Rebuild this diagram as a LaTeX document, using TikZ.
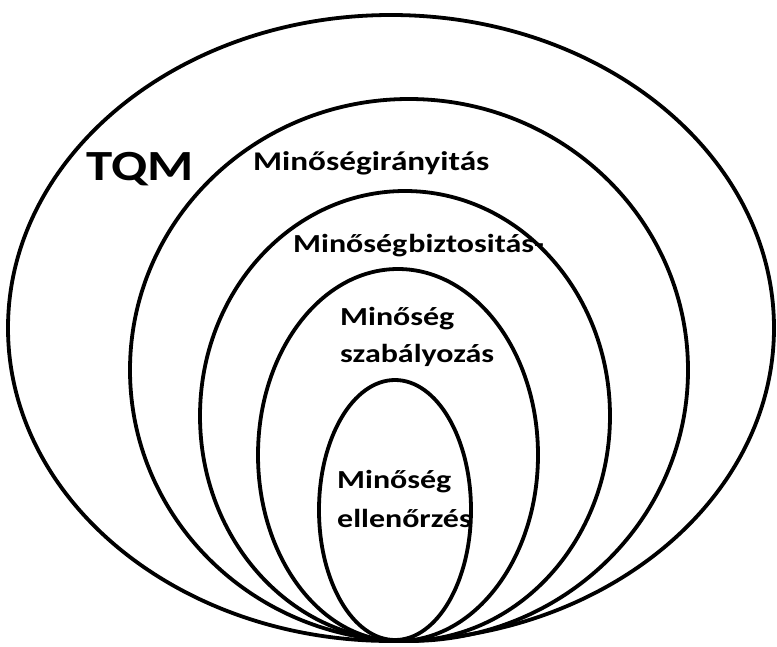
\documentclass[tikz,border=0pt]{standalone}
\usepackage{fontspec}
\newfontfamily\lblfont{Carlito}[FakeStretch=1.23]
\begin{document}
\begin{tikzpicture}[x=1pt,y=-1pt,
  ring/.style={draw=black,line width=3.8pt},
  lbl/.style={anchor=base west,inner sep=0pt,font=\lblfont\bfseries\fontsize{26}{30}\selectfont}]
\useasboundingbox (0,0) rectangle (777,646);
\fill[white] (0,0) rectangle (777,646);
% nested ellipses, all touching at the bottom
\draw[ring] (391,328) ellipse [x radius=383pt, y radius=313pt];
\draw[ring] (409,370) ellipse [x radius=279pt, y radius=271pt];
\draw[ring] (405,416) ellipse [x radius=205pt, y radius=225pt];
\draw[ring] (398,455) ellipse [x radius=140pt, y radius=186pt];
\draw[ring] (395,510) ellipse [x radius=76pt, y radius=130pt];
% labels
\node[lbl,font=\lblfont\bfseries\fontsize{43}{50}\selectfont] (tqm) at (86,180) {TQM};
\node[lbl,font=\lblfont\bfseries\fontsize{27}{32}\selectfont] (iranyitas) at (253,170) {Minőségirányitás};
\node[lbl] (biztositas) at (293,252) {Minőség\kern1pt biztositás-};
\node[lbl] (szab1) at (340,325) {Minőség};
\node[lbl] (szab2) at (340,362) {szabályozás};
\node[lbl] (ell1) at (337,488) {Minőség};
\node[lbl] (ell2) at (337,527) {ellenőrzés};
\end{tikzpicture}
\end{document}
